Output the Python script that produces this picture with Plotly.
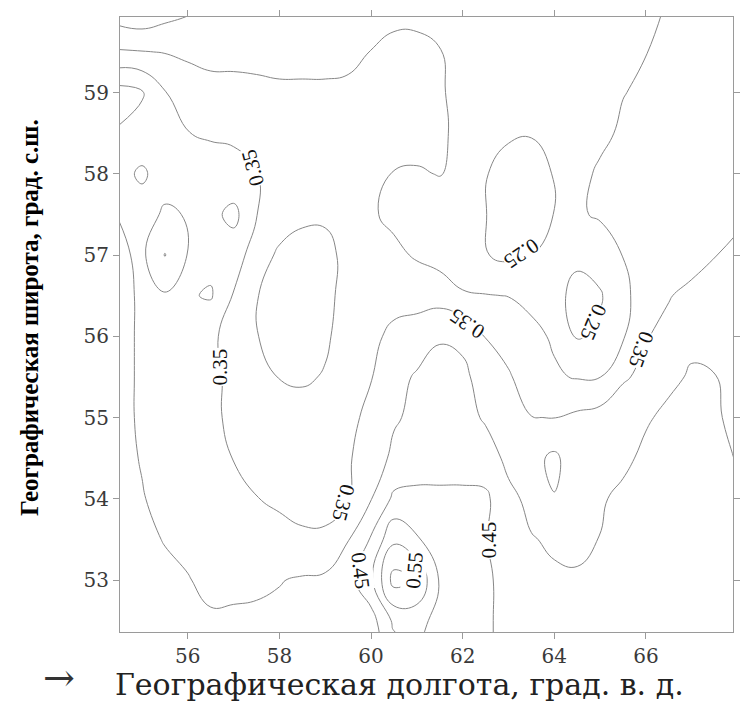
import plotly.graph_objects as go

# Longitude (deg E) and latitude (deg N) of the estimated grid nodes
lon = [54.5, 55.0, 55.5, 56.0, 56.5, 57.0, 57.5, 58.0, 58.5, 59.0, 59.5, 60.0, 60.5, 61.0,
       61.5, 62.0, 62.5, 63.0, 63.5, 64.0, 64.5, 65.0, 65.5, 66.0, 66.5, 67.0, 67.5, 68.0]
lat_desc = [60.0, 59.5, 59.0, 58.5, 58.0, 57.5, 57.0, 56.5, 56.0, 55.5, 55.0, 54.5, 54.0,
            53.5, 53.0, 52.5, 52.0]

# Field values (rows north -> south, columns west -> east)
z_desc = [
    [0.22, 0.21, 0.23, 0.245, 0.26, 0.27, 0.27, 0.275, 0.28, 0.28, 0.28, 0.285, 0.29, 0.29, 0.285, 0.28, 0.275, 0.27, 0.27, 0.275, 0.28, 0.285, 0.29, 0.295, 0.302, 0.31, 0.315, 0.32],
    [0.305, 0.302, 0.298, 0.29, 0.285, 0.285, 0.285, 0.28, 0.28, 0.28, 0.285, 0.301, 0.31, 0.31, 0.302, 0.28, 0.27, 0.265, 0.265, 0.27, 0.275, 0.28, 0.285, 0.299, 0.31, 0.315, 0.32, 0.325],
    [0.42, 0.405, 0.352, 0.33, 0.317, 0.316, 0.312, 0.31, 0.31, 0.31, 0.312, 0.32, 0.32, 0.32, 0.305, 0.285, 0.27, 0.26, 0.26, 0.265, 0.27, 0.28, 0.298, 0.31, 0.315, 0.32, 0.325, 0.33],
    [0.395, 0.38, 0.37, 0.351, 0.345, 0.345, 0.335, 0.32, 0.32, 0.32, 0.325, 0.325, 0.325, 0.32, 0.306, 0.29, 0.265, 0.255, 0.252, 0.26, 0.27, 0.285, 0.31, 0.315, 0.32, 0.325, 0.33, 0.335],
    [0.39, 0.405, 0.385, 0.38, 0.37, 0.36, 0.351, 0.335, 0.325, 0.32, 0.32, 0.31, 0.298, 0.295, 0.302, 0.285, 0.252, 0.235, 0.235, 0.252, 0.28, 0.31, 0.32, 0.325, 0.33, 0.335, 0.34, 0.34],
    [0.398, 0.385, 0.405, 0.398, 0.385, 0.415, 0.351, 0.33, 0.31, 0.305, 0.315, 0.305, 0.29, 0.285, 0.28, 0.27, 0.251, 0.23, 0.23, 0.251, 0.295, 0.305, 0.31, 0.32, 0.33, 0.335, 0.34, 0.345],
    [0.41, 0.39, 0.452, 0.398, 0.385, 0.37, 0.33, 0.29, 0.28, 0.29, 0.31, 0.32, 0.31, 0.295, 0.28, 0.27, 0.252, 0.24, 0.249, 0.27, 0.26, 0.275, 0.301, 0.315, 0.325, 0.335, 0.349, 0.356],
    [0.41, 0.395, 0.395, 0.395, 0.405, 0.347, 0.302, 0.28, 0.275, 0.285, 0.32, 0.335, 0.335, 0.33, 0.33, 0.305, 0.302, 0.299, 0.29, 0.265, 0.235, 0.245, 0.29, 0.32, 0.348, 0.36, 0.37, 0.375],
    [0.41, 0.395, 0.38, 0.37, 0.355, 0.34, 0.302, 0.28, 0.275, 0.29, 0.33, 0.34, 0.36, 0.375, 0.395, 0.39, 0.348, 0.33, 0.31, 0.295, 0.245, 0.26, 0.295, 0.348, 0.36, 0.39, 0.39, 0.385],
    [0.41, 0.395, 0.38, 0.365, 0.355, 0.345, 0.32, 0.298, 0.29, 0.305, 0.33, 0.348, 0.385, 0.405, 0.42, 0.41, 0.38, 0.355, 0.325, 0.305, 0.297, 0.299, 0.345, 0.36, 0.39, 0.405, 0.401, 0.39],
    [0.41, 0.395, 0.38, 0.365, 0.355, 0.345, 0.335, 0.33, 0.33, 0.335, 0.34, 0.36, 0.395, 0.41, 0.42, 0.415, 0.395, 0.37, 0.351, 0.349, 0.36, 0.37, 0.375, 0.395, 0.41, 0.415, 0.405, 0.39],
    [0.41, 0.398, 0.385, 0.375, 0.365, 0.349, 0.335, 0.33, 0.33, 0.335, 0.345, 0.375, 0.41, 0.42, 0.43, 0.44, 0.42, 0.39, 0.385, 0.41, 0.37, 0.375, 0.39, 0.41, 0.42, 0.42, 0.41, 0.398],
    [0.41, 0.402, 0.39, 0.38, 0.37, 0.36, 0.351, 0.345, 0.34, 0.34, 0.348, 0.398, 0.46, 0.465, 0.46, 0.455, 0.46, 0.41, 0.39, 0.398, 0.385, 0.395, 0.41, 0.42, 0.425, 0.425, 0.415, 0.404],
    [0.41, 0.41, 0.398, 0.39, 0.38, 0.375, 0.37, 0.36, 0.355, 0.355, 0.398, 0.455, 0.54, 0.505, 0.47, 0.46, 0.452, 0.43, 0.402, 0.395, 0.39, 0.401, 0.41, 0.42, 0.425, 0.425, 0.42, 0.41],
    [0.41, 0.41, 0.41, 0.402, 0.39, 0.385, 0.385, 0.398, 0.405, 0.41, 0.43, 0.49, 0.62, 0.595, 0.495, 0.46, 0.455, 0.44, 0.42, 0.405, 0.405, 0.41, 0.415, 0.42, 0.42, 0.42, 0.42, 0.42],
    [0.41, 0.41, 0.41, 0.405, 0.405, 0.41, 0.415, 0.41, 0.415, 0.42, 0.43, 0.43, 0.51, 0.52, 0.48, 0.465, 0.455, 0.44, 0.43, 0.42, 0.415, 0.415, 0.42, 0.42, 0.42, 0.42, 0.42, 0.42],
    [0.41, 0.41, 0.41, 0.41, 0.41, 0.415, 0.415, 0.415, 0.42, 0.42, 0.425, 0.43, 0.47, 0.48, 0.47, 0.46, 0.455, 0.44, 0.43, 0.42, 0.42, 0.42, 0.42, 0.42, 0.42, 0.42, 0.42, 0.42],
]

levels = dict(start=0.25, end=0.60, size=0.05)   # isolines every 0.05

# Isoline labels: level text, where it sits (lon, lat) and its rotation
label_text = ["0.35", "0.35", "0.35", "0.35", "0.35", "0.25", "0.25", "0.45", "0.45", "0.55"]
label_lon = [57.42, 56.71, 59.40, 62.09, 65.89, 63.27, 64.84, 59.76, 62.58, 60.95]
label_lat = [58.08, 55.62, 53.95, 56.16, 55.83, 57.02, 56.17, 53.12, 53.49, 53.12]
label_angle = [-105, -90, 105, -146, 110, 146, 113, 83, -90, -85]

x_ticks = [56, 58, 60, 62, 64, 66]
y_ticks = [53, 54, 55, 56, 57, 58, 59]

x_title = "Географическая долгота, град. в. д."
y_title = "Географическая широта, град. с.ш."

lat = lat_desc[::-1]
z = z_desc[::-1]

LINE = "#878787"
fig = go.Figure()
fig.add_trace(go.Contour(
    x=lon, y=lat, z=z, showscale=False, hoverinfo="skip",
    contours=dict(coloring="none", showlabels=False, **levels),
    line=dict(color=LINE, width=1, smoothing=1.3),
))

annotations = []
for t, lo, la, ang in zip(label_text, label_lon, label_lat, label_angle):
    annotations.append(dict(
        text=t, x=lo, y=la, xref="x", yref="y", showarrow=False, textangle=ang,
        bgcolor="white", borderpad=0,
        font=dict(family="Liberation Serif", size=21, color="#111")))

annotations += [
    dict(text=y_title, xref="paper", yref="paper", x=-0.148, y=0.511,
         xanchor="center", yanchor="middle", textangle=-90, showarrow=False,
         font=dict(family="Liberation Serif", size=25, color="#000", weight="bold")),
    dict(text=x_title, xref="paper", yref="paper", x=-0.011, y=-0.0846,
         xanchor="left", yanchor="middle", showarrow=False,
         font=dict(family="DejaVu Serif", size=30, color="#222")),
    dict(text="→", xref="paper", yref="paper", x=-0.1, y=-0.075,
         xanchor="center", yanchor="middle", showarrow=False,
         font=dict(family="DejaVu Serif", size=38, color="#333")),
]

axis_common = dict(showgrid=False, zeroline=False, showline=True, linecolor="#9a9a9a",
                   linewidth=1, mirror="ticks", ticks="outside", ticklen=6,
                   tickcolor="#9a9a9a",
                   tickfont=dict(family="DejaVu Serif", size=20, color="#3a3a3a"))

fig.update_layout(
    width=747, height=704,
    margin=dict(l=120, r=7, t=17, b=72),
    paper_bgcolor="white", plot_bgcolor="white",
    showlegend=False,
    xaxis=dict(range=[54.52, 67.9], tickvals=x_ticks, **axis_common),
    yaxis=dict(range=[52.36, 59.93], tickvals=y_ticks, **axis_common),
    annotations=annotations,
)

fig.write_html("out.html")
